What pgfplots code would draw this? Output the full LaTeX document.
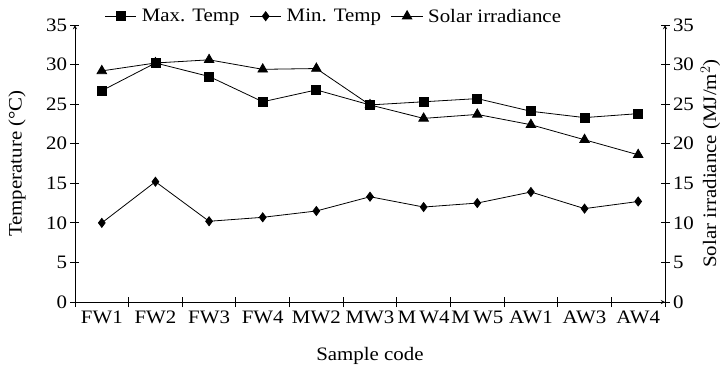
\documentclass[border=0pt]{standalone}
\usepackage{pgfplots}
\pgfplotsset{compat=1.18}
\usepackage{pgfplotstable}
\usepackage{fontspec}
\setmainfont[FakeStretch=1.1]{Liberation Serif}

\pgfplotstableread{
x max min solar
0 26.7 10.0 29.2
1 30.2 15.2 30.2
2 28.5 10.2 30.6
3 25.3 10.7 29.4
4 26.8 11.5 29.5
5 24.9 13.3 24.9
6 25.3 12.0 23.2
7 25.7 12.5 23.7
8 24.1 13.9 22.4
9 23.3 11.8 20.5
10 23.8 12.7 18.6
}\datatable

\begin{document}
\begin{tikzpicture}[font=\fontsize{19}{22}\selectfont]
\pgfplotsset{
  common/.style={
    scale only axis, width=590pt, height=277pt,
    xmin=-0.5, xmax=10.5, ymin=0, ymax=35,
    axis line style={-, line width=0.9pt},
    tick style={line width=0.9pt, black},
    tick align=outside,
    major tick length=9pt,
    /pgf/number format/assume math mode=true,
  },
  maxs/.style={black, line width=0.8pt, mark=square*, mark size=4.5pt},
  mins/.style={black, line width=0.8pt, mark=diamond*, mark size=4.5pt},
  sols/.style={black, line width=0.8pt, mark=triangle*, mark size=5.5pt},
}
\begin{axis}[common,
  axis x line=bottom, axis y line=left,
  xtick={0,...,10},
  xticklabels={FW1,FW2,FW3,FW4,MW2,MW3,M\,W4,M\,W5,AW1,AW3,AW4},
  major x tick style={draw=none},
  minor xtick={-0.5,0.5,...,10.5},
  minor tick length=10pt,
  minor x tick style={line width=0.9pt},
  ytick={0,5,...,35},
  xticklabel style={yshift=-1pt},
  xlabel={Sample code},
  xlabel style={at={(axis description cs:0.5,0)}, anchor=center, yshift=-54pt},
  ylabel={Temperature (°C)},
  ylabel style={at={(axis description cs:-0.098,0.5)}, anchor=center},
]
\addplot[maxs] table[x=x,y=max]{\datatable};
\addplot[mins] table[x=x,y=min]{\datatable};
\end{axis}
\begin{axis}[common,
  axis x line=none, axis y line=right,
  ytick={0,5,...,35},
  ylabel={Solar irradiance (MJ/m$^{2}$)},
  ylabel style={at={(axis description cs:1.077,0.5)}, anchor=center},
  legend columns=3,
  legend style={draw=none, fill=none, at={(axis description cs:0.045,0.99)}, anchor=south west,
    /tikz/every odd column/.append style={column sep=3pt},
    /tikz/every even column/.append style={column sep=8pt}, font=\fontsize{19}{22}\selectfont},
  legend image code/.code={\draw[mark repeat=2,mark phase=2,#1] plot coordinates {(0cm,0cm) (0.55cm,0cm) (1.1cm,0cm)};},
]
\addlegendimage{maxs}
\addlegendentry{Max. Temp}
\addlegendimage{mins}
\addlegendentry{Min. Temp}
\addplot[sols] table[x=x,y=solar]{\datatable};
\addlegendentry{Solar irradiance}
\end{axis}
\pgfresetboundingbox
\useasboundingbox (-75pt,-66pt) rectangle (649pt,302pt);
\end{tikzpicture}
\end{document}
